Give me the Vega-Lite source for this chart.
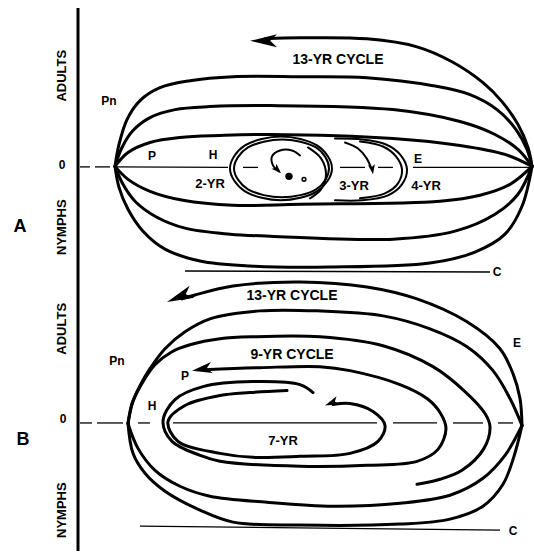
{
"$schema":"https://vega.github.io/schema/vega-lite/v6.json",
"width":534,"height":553,"padding":0,
"autosize":{"type":"fit","contains":"padding"},
"config":{"view":{"stroke":null},"background":"white"},
"datasets":{
"curves":[
{"c":"a13","x":532,"y":167},{"c":"a13","x":528,"y":148},{"c":"a13","x":518,"y":125},{"c":"a13","x":502,"y":102},{"c":"a13","x":483,"y":83},{"c":"a13","x":452,"y":62},{"c":"a13","x":417,"y":47},{"c":"a13","x":367,"y":39},{"c":"a13","x":300,"y":38},{"c":"a13","x":265,"y":39},
{"c":"at1","x":115,"y":167},{"c":"at1","x":119,"y":145},{"c":"at1","x":127,"y":120},{"c":"at1","x":140,"y":101},{"c":"at1","x":160,"y":88},{"c":"at1","x":190,"y":81},{"c":"at1","x":233,"y":77},{"c":"at1","x":300,"y":77},{"c":"at1","x":367,"y":78},{"c":"at1","x":433,"y":86},{"c":"at1","x":470,"y":95},{"c":"at1","x":497,"y":110},{"c":"at1","x":516,"y":130},{"c":"at1","x":527,"y":150},{"c":"at1","x":532,"y":167},
{"c":"at2","x":115,"y":167},{"c":"at2","x":122,"y":148},{"c":"at2","x":133,"y":131},{"c":"at2","x":150,"y":118},{"c":"at2","x":175,"y":110},{"c":"at2","x":210,"y":107},{"c":"at2","x":270,"y":106},{"c":"at2","x":393,"y":110},{"c":"at2","x":460,"y":122},{"c":"at2","x":495,"y":135},{"c":"at2","x":518,"y":150},{"c":"at2","x":532,"y":167},
{"c":"at3","x":115,"y":167},{"c":"at3","x":128,"y":153},{"c":"at3","x":150,"y":143},{"c":"at3","x":180,"y":138},{"c":"at3","x":220,"y":136},{"c":"at3","x":270,"y":135},{"c":"at3","x":393,"y":139},{"c":"at3","x":460,"y":146},{"c":"at3","x":505,"y":155},{"c":"at3","x":532,"y":167},
{"c":"ab1","x":115,"y":167},{"c":"ab1","x":128,"y":180},{"c":"ab1","x":150,"y":192},{"c":"ab1","x":183,"y":201},{"c":"ab1","x":233,"y":206},{"c":"ab1","x":300,"y":205},{"c":"ab1","x":440,"y":202},{"c":"ab1","x":480,"y":196},{"c":"ab1","x":510,"y":185},{"c":"ab1","x":532,"y":167},
{"c":"ab2","x":115,"y":167},{"c":"ab2","x":123,"y":185},{"c":"ab2","x":135,"y":202},{"c":"ab2","x":155,"y":217},{"c":"ab2","x":185,"y":229},{"c":"ab2","x":230,"y":235},{"c":"ab2","x":270,"y":237},{"c":"ab2","x":393,"y":240},{"c":"ab2","x":455,"y":232},{"c":"ab2","x":495,"y":215},{"c":"ab2","x":518,"y":195},{"c":"ab2","x":532,"y":167},
{"c":"ab3","x":115,"y":167},{"c":"ab3","x":119,"y":188},{"c":"ab3","x":128,"y":210},{"c":"ab3","x":143,"y":232},{"c":"ab3","x":165,"y":250},{"c":"ab3","x":200,"y":262},{"c":"ab3","x":250,"y":267},{"c":"ab3","x":330,"y":268},{"c":"ab3","x":430,"y":264},{"c":"ab3","x":475,"y":253},{"c":"ab3","x":505,"y":235},{"c":"ab3","x":522,"y":207},{"c":"ab3","x":532,"y":167},
{"c":"b13","x":522,"y":427},{"c":"b13","x":520,"y":400},{"c":"b13","x":513,"y":375},{"c":"b13","x":500,"y":350},{"c":"b13","x":467,"y":323},{"c":"b13","x":417,"y":300},{"c":"b13","x":367,"y":288},{"c":"b13","x":300,"y":283},{"c":"b13","x":233,"y":287},{"c":"b13","x":195,"y":296},{"c":"b13","x":182,"y":300},
{"c":"bt1","x":128,"y":425},{"c":"bt1","x":132,"y":405},{"c":"bt1","x":140,"y":387},{"c":"bt1","x":150,"y":370},{"c":"bt1","x":165,"y":350},{"c":"bt1","x":185,"y":333},{"c":"bt1","x":210,"y":320},{"c":"bt1","x":260,"y":312},{"c":"bt1","x":317,"y":312},{"c":"bt1","x":383,"y":317},{"c":"bt1","x":430,"y":330},{"c":"bt1","x":467,"y":348},{"c":"bt1","x":493,"y":372},{"c":"bt1","x":510,"y":400},{"c":"bt1","x":522,"y":427},
{"c":"bt2","x":128,"y":425},{"c":"bt2","x":133,"y":403},{"c":"bt2","x":143,"y":383},{"c":"bt2","x":155,"y":366},{"c":"bt2","x":172,"y":353},{"c":"bt2","x":190,"y":346},{"c":"bt2","x":220,"y":340},{"c":"bt2","x":253,"y":338},{"c":"bt2","x":320,"y":338},{"c":"bt2","x":383,"y":347},{"c":"bt2","x":433,"y":368},{"c":"bt2","x":465,"y":393},{"c":"bt2","x":485,"y":415},{"c":"bt2","x":490,"y":428},{"c":"bt2","x":484,"y":450},{"c":"bt2","x":462,"y":472},{"c":"bt2","x":440,"y":481},{"c":"bt2","x":417,"y":486},
{"c":"bb1","x":128,"y":425},{"c":"bb1","x":133,"y":455},{"c":"bb1","x":145,"y":475},{"c":"bb1","x":165,"y":493},{"c":"bb1","x":200,"y":512},{"c":"bb1","x":233,"y":524},{"c":"bb1","x":300,"y":527},{"c":"bb1","x":400,"y":526},{"c":"bb1","x":450,"y":521},{"c":"bb1","x":483,"y":508},{"c":"bb1","x":503,"y":486},{"c":"bb1","x":514,"y":458},{"c":"bb1","x":522,"y":427},
{"c":"bb2","x":128,"y":425},{"c":"bb2","x":138,"y":450},{"c":"bb2","x":155,"y":472},{"c":"bb2","x":180,"y":488},{"c":"bb2","x":210,"y":498},{"c":"bb2","x":267,"y":504},{"c":"bb2","x":333,"y":508},{"c":"bb2","x":400,"y":505},{"c":"bb2","x":450,"y":497},{"c":"bb2","x":483,"y":480},{"c":"bb2","x":505,"y":457},{"c":"bb2","x":522,"y":427},
{"c":"b9","x":313,"y":394},{"c":"b9","x":300,"y":386},{"c":"b9","x":253,"y":383},{"c":"b9","x":203,"y":388},{"c":"b9","x":175,"y":401},{"c":"b9","x":163,"y":423},{"c":"b9","x":172,"y":443},{"c":"b9","x":200,"y":457},{"c":"b9","x":220,"y":463},{"c":"b9","x":300,"y":468},{"c":"b9","x":367,"y":467},{"c":"b9","x":417,"y":463},{"c":"b9","x":438,"y":451},{"c":"b9","x":446,"y":430},{"c":"b9","x":440,"y":414},{"c":"b9","x":427,"y":400},{"c":"b9","x":400,"y":386},{"c":"b9","x":350,"y":372},{"c":"b9","x":320,"y":368},{"c":"b9","x":260,"y":369},{"c":"b9","x":205,"y":371},
{"c":"b7","x":287,"y":392},{"c":"b7","x":250,"y":394},{"c":"b7","x":220,"y":397},{"c":"b7","x":185,"y":407},{"c":"b7","x":168,"y":423},{"c":"b7","x":178,"y":443},{"c":"b7","x":220,"y":455},{"c":"b7","x":253,"y":459},{"c":"b7","x":300,"y":458},{"c":"b7","x":350,"y":455},{"c":"b7","x":378,"y":443},{"c":"b7","x":385,"y":427},{"c":"b7","x":373,"y":413},{"c":"b7","x":350,"y":405},{"c":"b7","x":333,"y":406}
],
"thin":[
{"c":"s1","x":335,"y":139},{"c":"s1","x":362,"y":140},{"c":"s1","x":386,"y":145},{"c":"s1","x":400,"y":155},{"c":"s1","x":407,"y":170},{"c":"s1","x":402,"y":185},{"c":"s1","x":388,"y":196},{"c":"s1","x":362,"y":201},{"c":"s1","x":335,"y":201},
{"c":"s2","x":360,"y":142},{"c":"s2","x":383,"y":147},{"c":"s2","x":396,"y":157},{"c":"s2","x":402,"y":170},{"c":"s2","x":398,"y":184},{"c":"s2","x":385,"y":194},{"c":"s2","x":360,"y":199},
{"c":"s3","x":308,"y":148},{"c":"s3","x":321,"y":159},{"c":"s3","x":326,"y":175},{"c":"s3","x":321,"y":190},{"c":"s3","x":310,"y":199},
{"c":"s4","x":300,"y":156},{"c":"s4","x":292,"y":151},{"c":"s4","x":280,"y":151},{"c":"s4","x":272,"y":157},{"c":"s4","x":273,"y":166},{"c":"s4","x":279,"y":172},
{"c":"s5","x":345,"y":143},{"c":"s5","x":358,"y":149},{"c":"s5","x":366,"y":158},{"c":"s5","x":371,"y":168}
],
"rings":[
{"c":"r1","x":332,"y":169},{"c":"r1","x":317,"y":146},{"c":"r1","x":281,"y":137},{"c":"r1","x":245,"y":146},{"c":"r1","x":230,"y":169},{"c":"r1","x":245,"y":192},{"c":"r1","x":281,"y":201},{"c":"r1","x":317,"y":192},
{"c":"r2","x":329,"y":169},{"c":"r2","x":316,"y":148},{"c":"r2","x":282,"y":140},{"c":"r2","x":248,"y":148},{"c":"r2","x":234,"y":169},{"c":"r2","x":248,"y":190},{"c":"r2","x":282,"y":198},{"c":"r2","x":316,"y":190}
],
"guides":[
{"x1":80,"y1":167.5,"x2":90,"y2":167.5},{"x1":95,"y1":167.5,"x2":110,"y2":167.5},{"x1":115,"y1":167.5,"x2":228,"y2":168},{"x1":243,"y1":168,"x2":258,"y2":168},{"x1":340,"y1":168,"x2":365,"y2":168},{"x1":378,"y1":168,"x2":393,"y2":168},{"x1":413,"y1":168,"x2":532,"y2":168},
{"x1":185,"y1":272,"x2":490,"y2":273},
{"x1":80,"y1":424.5,"x2":92,"y2":424.5},{"x1":97,"y1":424.5,"x2":123,"y2":424.5},{"x1":138,"y1":424.5,"x2":150,"y2":424.5},{"x1":173,"y1":424.5,"x2":377,"y2":424.5},{"x1":393,"y1":424.5,"x2":437,"y2":424.5},{"x1":453,"y1":424.5,"x2":483,"y2":424.5},{"x1":498,"y1":424.5,"x2":513,"y2":424.5},
{"x1":140,"y1":528,"x2":500,"y2":532}
],
"axisline":[{"x1":78,"y1":8,"x2":78,"y2":553}],
"arrows":[
{"id":"a13","x":250,"y":41},{"id":"b13","x":167,"y":303},{"id":"b9","x":192,"y":372},{"id":"b7","x":325,"y":407},{"id":"a3","x":373,"y":175},{"id":"asp","x":281,"y":174}
],
"dots":[{"d":"big","x":289,"y":177},{"d":"small","x":304,"y":180}],
"labels":[
{"t":"2-YR","x":210,"y":185},{"t":"3-YR","x":354,"y":187},{"t":"4-YR","x":426,"y":187},{"t":"7-YR","x":283,"y":443}
],
"small":[
{"t":"Pn","x":109,"y":101},{"t":"P","x":152,"y":157},{"t":"H","x":213,"y":156},{"t":"E","x":418,"y":160},{"t":"C","x":497,"y":273},{"t":"0","x":62,"y":166},
{"t":"Pn","x":117,"y":362},{"t":"P","x":185,"y":377},{"t":"H","x":152,"y":407},{"t":"E","x":517,"y":344},{"t":"C","x":513,"y":533},{"t":"0","x":63,"y":421}
],
"titles":[
{"t":"13-YR CYCLE","x":338,"y":60},{"t":"13-YR CYCLE","x":292,"y":297},{"t":"9-YR CYCLE","x":292,"y":356}
],
"big":[{"t":"A","x":20,"y":228},{"t":"B","x":23,"y":442}],
"vert":[
{"t":"ADULTS","x":62,"y":76},{"t":"NYMPHS","x":62,"y":228},{"t":"ADULTS","x":62,"y":330},{"t":"NYMPHS","x":62,"y":512}
]
},
"layer":[
{"data":{"name":"guides"},"mark":{"type":"rule","color":"black","strokeWidth":1.3},
 "encoding":{"x":{"field":"x1","type":"quantitative","scale":{"domain":[0,534],"nice":false,"zero":false},"axis":null},"y":{"field":"y1","type":"quantitative","scale":{"domain":[0,553],"nice":false,"zero":false,"reverse":true},"axis":null},"x2":{"field":"x2"},"y2":{"field":"y2"}}},
{"data":{"name":"axisline"},"mark":{"type":"rule","color":"black","strokeWidth":3},
 "encoding":{"x":{"field":"x1","type":"quantitative"},"y":{"field":"y1","type":"quantitative"},"x2":{"field":"x2"},"y2":{"field":"y2"}}},
{"data":{"name":"curves"},"mark":{"type":"line","interpolate":"catmull-rom","color":"black","strokeWidth":3,"strokeCap":"round","strokeJoin":"round"},
 "encoding":{"x":{"field":"x","type":"quantitative"},"y":{"field":"y","type":"quantitative"},"detail":{"field":"c"},"order":{"value":null}}},
{"data":{"name":"thin"},"mark":{"type":"line","interpolate":"catmull-rom","color":"black","strokeWidth":2,"strokeCap":"round"},
 "encoding":{"x":{"field":"x","type":"quantitative"},"y":{"field":"y","type":"quantitative"},"detail":{"field":"c"},"order":{"value":null}}},
{"data":{"name":"rings"},"mark":{"type":"line","interpolate":"cardinal-closed","color":"black","strokeWidth":2},
 "encoding":{"x":{"field":"x","type":"quantitative"},"y":{"field":"y","type":"quantitative"},"detail":{"field":"c"},"order":{"value":null}}},
{"data":{"name":"arrows"},"transform":[{"filter":"datum.id==='a13'"}],"mark":{"type":"point","shape":"M0,0L2,-0.48L1.5,0L2,0.48Z","filled":true,"color":"black","opacity":1,"size":729,"angle":0},
 "encoding":{"x":{"field":"x","type":"quantitative"},"y":{"field":"y","type":"quantitative"}}},
{"data":{"name":"arrows"},"transform":[{"filter":"datum.id==='b13'"}],"mark":{"type":"point","shape":"M0,0L2,-0.48L1.5,0L2,0.48Z","filled":true,"color":"black","opacity":1,"size":729,"angle":338},
 "encoding":{"x":{"field":"x","type":"quantitative"},"y":{"field":"y","type":"quantitative"}}},
{"data":{"name":"arrows"},"transform":[{"filter":"datum.id==='b9'"}],"mark":{"type":"point","shape":"M0,0L2,-0.55L1.5,0L2,0.55Z","filled":true,"color":"black","opacity":1,"size":400,"angle":351},
 "encoding":{"x":{"field":"x","type":"quantitative"},"y":{"field":"y","type":"quantitative"}}},
{"data":{"name":"arrows"},"transform":[{"filter":"datum.id==='b7'"}],"mark":{"type":"point","shape":"M0,0L2,-0.6L1.5,0L2,0.6Z","filled":true,"color":"black","opacity":1,"size":200,"angle":338},
 "encoding":{"x":{"field":"x","type":"quantitative"},"y":{"field":"y","type":"quantitative"}}},
{"data":{"name":"arrows"},"transform":[{"filter":"datum.id==='a3'"}],"mark":{"type":"point","shape":"M0,0L2,-0.7L1.5,0L2,0.7Z","filled":true,"color":"black","opacity":1,"size":100,"angle":261},
 "encoding":{"x":{"field":"x","type":"quantitative"},"y":{"field":"y","type":"quantitative"}}},
{"data":{"name":"arrows"},"transform":[{"filter":"datum.id==='asp'"}],"mark":{"type":"point","shape":"M0,0L2,-0.7L1.5,0L2,0.7Z","filled":true,"color":"black","opacity":1,"size":100,"angle":225},
 "encoding":{"x":{"field":"x","type":"quantitative"},"y":{"field":"y","type":"quantitative"}}},
{"data":{"name":"dots"},"transform":[{"filter":"datum.d==='big'"}],"mark":{"type":"circle","color":"black","opacity":1,"size":55},
 "encoding":{"x":{"field":"x","type":"quantitative"},"y":{"field":"y","type":"quantitative"}}},
{"data":{"name":"dots"},"transform":[{"filter":"datum.d==='small'"}],"mark":{"type":"point","color":"black","opacity":1,"size":14,"strokeWidth":1.5},
 "encoding":{"x":{"field":"x","type":"quantitative"},"y":{"field":"y","type":"quantitative"}}},
{"data":{"name":"labels"},"mark":{"type":"text","font":"Liberation Sans","fontWeight":"bold","fontSize":13,"align":"center","baseline":"middle","color":"black"},
 "encoding":{"x":{"field":"x","type":"quantitative"},"y":{"field":"y","type":"quantitative"},"text":{"field":"t"}}},
{"data":{"name":"small"},"mark":{"type":"text","font":"Liberation Sans","fontWeight":"bold","fontSize":12,"align":"center","baseline":"middle","color":"black"},
 "encoding":{"x":{"field":"x","type":"quantitative"},"y":{"field":"y","type":"quantitative"},"text":{"field":"t"}}},
{"data":{"name":"titles"},"mark":{"type":"text","font":"Liberation Sans","fontWeight":"bold","fontSize":14,"align":"center","baseline":"middle","color":"black"},
 "encoding":{"x":{"field":"x","type":"quantitative"},"y":{"field":"y","type":"quantitative"},"text":{"field":"t"}}},
{"data":{"name":"big"},"mark":{"type":"text","font":"Liberation Sans","fontWeight":"bold","fontSize":18,"align":"center","baseline":"middle","color":"black"},
 "encoding":{"x":{"field":"x","type":"quantitative"},"y":{"field":"y","type":"quantitative"},"text":{"field":"t"}}},
{"data":{"name":"vert"},"mark":{"type":"text","font":"Liberation Sans","fontWeight":"bold","fontSize":13,"align":"center","baseline":"middle","angle":270,"color":"black"},
 "encoding":{"x":{"field":"x","type":"quantitative"},"y":{"field":"y","type":"quantitative"},"text":{"field":"t"}}}
]
}
